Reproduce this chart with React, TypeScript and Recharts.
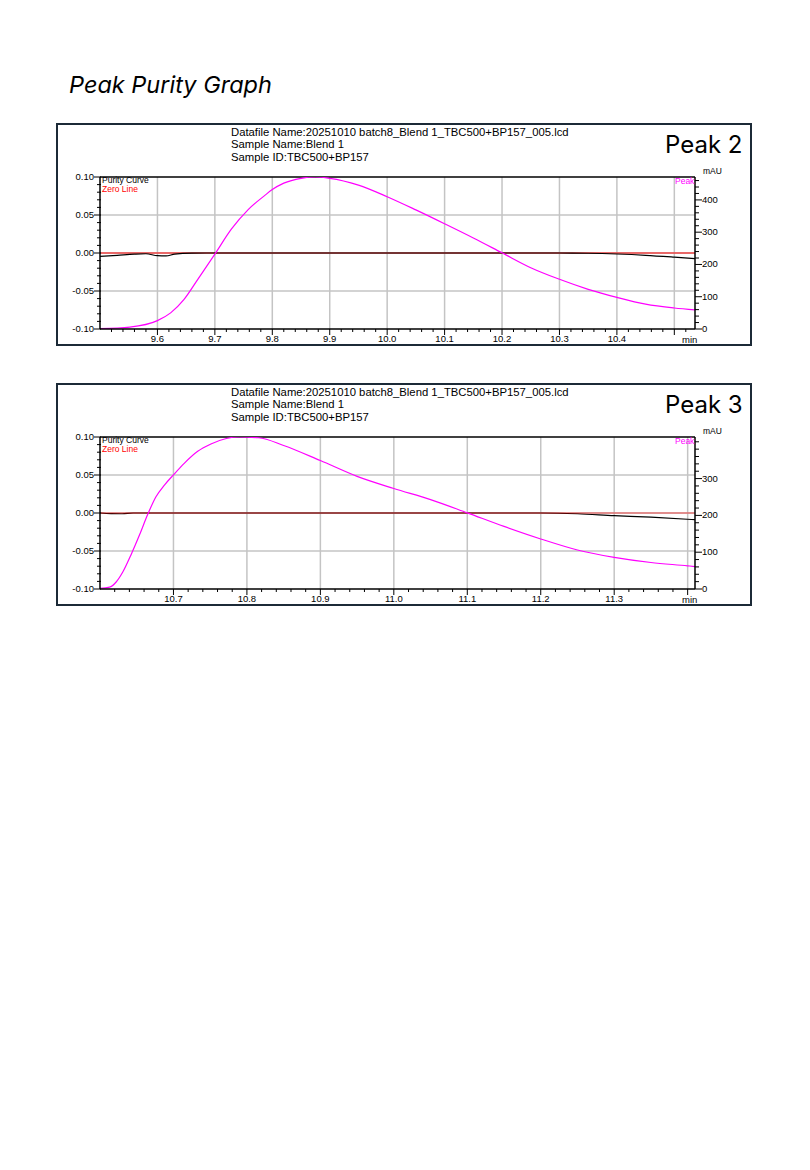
import React from 'react';
import { LineChart, Line, XAxis, YAxis, CartesianGrid, ReferenceLine } from 'recharts';

// Peak 2 window
const P2_TIME = [9.5, 9.552, 9.6, 9.623, 9.646, 9.67, 9.7, 9.729, 9.758, 9.787, 9.8, 9.82, 9.85, 9.875, 9.9, 9.95, 10.0, 10.05, 10.1, 10.15, 10.2, 10.25, 10.3, 10.35, 10.4, 10.45, 10.5, 10.536];
const P2_PEAK = [1, 6, 26, 50, 91, 153, 232, 310, 370, 414, 432, 452, 467, 471, 467, 446, 410, 369, 326, 282, 236, 190, 154, 123, 98, 77, 65, 59];
const P2_PUR_TIME = [9.5, 9.53, 9.56, 9.58, 9.6, 9.615, 9.63, 9.66, 9.7, 10.0, 10.3, 10.35, 10.4, 10.45, 10.5, 10.536];
const P2_PURITY = [-0.0044, -0.003, -0.0015, -0.001, -0.0035, -0.0038, -0.0015, -0.0002, 0, 0, 0, -0.0003, -0.0013, -0.003, -0.0055, -0.0075];
const P2_X_MAJOR = [9.6, 9.7, 9.8, 9.9, 10.0, 10.1, 10.2, 10.3, 10.4, 10.5];
const P2_Y_RIGHT = [0, 100, 200, 300, 400];

// Peak 3 window
const P3_TIME = [10.6, 10.613, 10.622, 10.631, 10.642, 10.654, 10.665, 10.676, 10.688, 10.7, 10.715, 10.733, 10.751, 10.772, 10.79, 10.816, 10.85, 10.9, 10.95, 11.0, 11.05, 11.1, 11.15, 11.2, 11.25, 11.3, 11.35, 11.4, 11.41];
const P3_PEAK = [2, 5, 19, 46, 92, 148, 203, 250, 283, 310, 342, 374, 394, 409, 413, 411, 390, 349, 306, 273, 243, 207, 170, 136, 106, 86, 72, 63, 61];
const P3_PUR_TIME = [10.6, 10.615, 10.63, 10.645, 10.9, 11.2, 11.25, 11.3, 11.35, 11.41];
const P3_PURITY = [0, -0.0008, -0.001, 0, 0, 0, -0.001, -0.0035, -0.0055, -0.0088];
const P3_X_MAJOR = [10.7, 10.8, 10.9, 11.0, 11.1, 11.2, 11.3, 11.4];
const P3_Y_RIGHT = [0, 100, 200, 300];

const Y_LEFT_MAJOR = [-0.1, -0.05, 0, 0.05, 0.1];
const Y_GRID = [-0.05, 0, 0.05];

const HEADER = [
  'Datafile Name:20251010 batch8_Blend 1_TBC500+BP157_005.lcd',
  'Sample Name:Blend 1',
  'Sample ID:TBC500+BP157',
];

const FONT = '"Liberation Sans", Arial, sans-serif';

const steps = (from: number, to: number, step: number) => {
  const out: number[] = [];
  const start = Math.ceil(from / step - 1e-6);
  for (let i = start; i * step <= to + 1e-9; i++) out.push(Math.round(i * step * 1000) / 1000);
  return out;
};
const isMajor = (list: number[], v: number) => list.some(m => Math.abs(m - v) < 1e-6);

interface PanelProps {
  top: number;
  name: string;
  xDomain: [number, number];
  xMajor: number[];
  peakMax: number;
  rightMajor: number[];
  time: number[];
  peak: number[];
  purTime: number[];
  purity: number[];
  zeroOnTop?: boolean;
}

function Panel({ top, name, xDomain, xMajor, peakMax, rightMajor, time, peak, purTime, purity, zeroOnTop }: PanelProps) {
  const peakData = time.map((t, i) => ({ t, peak: peak[i] }));
  const purData = purTime.map((t, i) => ({ t, purity: purity[i] }));
  const zeroData = [{ t: xDomain[0], zero: 0 }, { t: xDomain[1], zero: 0 }];
  const lastMajor = xMajor[xMajor.length - 1];

  const xTicks = steps(xDomain[0] + 0.001, xDomain[1], 0.02);
  const yLeftTicks = steps(-0.1, 0.1, 0.01);
  const yRightTicks = steps(0, peakMax, 20);

  const XTick = (p: any) => {
    const { x, y, payload } = p;
    const major = isMajor(xMajor, payload.value);
    return (
      <g>
        <line x1={x} x2={x} y1={y} y2={y + (major ? 6 : 3)} stroke="#000" strokeWidth={1} />
        {major && payload.value !== lastMajor && (
          <text x={x} y={y + 13} textAnchor="middle" fontSize={9.5} fontFamily={FONT} fill="#000">
            {payload.value.toFixed(1)}
          </text>
        )}
      </g>
    );
  };
  const YLeftTick = (p: any) => {
    const { x, y, payload } = p;
    const major = isMajor(Y_LEFT_MAJOR, payload.value);
    return (
      <g>
        <line x1={major ? x - 6 : x - 3} x2={x + 1} y1={y} y2={y} stroke="#000" strokeWidth={1} />
        {major && (
          <text x={x - 6} y={y + 3} textAnchor="end" fontSize={9.5} fontFamily={FONT} fill="#000">
            {payload.value.toFixed(2)}
          </text>
        )}
      </g>
    );
  };
  const YRightTick = (p: any) => {
    const { x, y, payload } = p;
    const major = isMajor(rightMajor, payload.value);
    return (
      <g>
        <line x1={x} x2={x + (major ? 7 : 4)} y1={y} y2={y} stroke="#000" strokeWidth={1} />
        {major && (
          <text x={x + 7} y={y + 3} textAnchor="start" fontSize={9.5} fontFamily={FONT} fill="#000">
            {payload.value}
          </text>
        )}
      </g>
    );
  };

  const zeroLine = (
    <Line key="zero" data={zeroData} dataKey="zero" xAxisId="x" yAxisId="left" type="linear"
      stroke="#ff0000" strokeOpacity={zeroOnTop ? 0.65 : 1} strokeWidth={1.2} dot={false} isAnimationActive={false} />
  );
  const purLine = (
    <Line key="pur" data={purData} dataKey="purity" xAxisId="x" yAxisId="left" type="monotone"
      stroke="#000" strokeWidth={1.2} dot={false} isAnimationActive={false} />
  );

  return (
    <div style={{ position: 'absolute', left: 56, top, width: 692, height: 219, border: '2px solid #1c2a37', background: '#fff' }}>
      <div style={{ position: 'absolute', left: 173, top: 1, fontFamily: FONT, fontSize: 11.3, lineHeight: '12.3px', color: '#000', whiteSpace: 'pre' }}>
        {HEADER.map(h => <div key={h}>{h}</div>)}
      </div>
      <div style={{ position: 'absolute', left: 607, top: 5, fontFamily: 'Inter, "Open Sans", sans-serif', fontSize: 24, color: '#000', whiteSpace: 'pre' }}>
        {name}
      </div>
      <LineChart width={692} height={219} margin={{ top: 52, right: 0, bottom: 0, left: 0 }}>
        <CartesianGrid xAxisId="x" yAxisId="left" stroke="#c4c4c4" strokeWidth={1.5}
          verticalValues={xMajor} horizontalValues={Y_GRID} />
        <XAxis xAxisId="x" dataKey="t" type="number" domain={xDomain} allowDataOverflow ticks={xTicks} interval={0}
          height={15} tickSize={0} tickMargin={0} tickLine={false} axisLine={{ stroke: '#000', strokeWidth: 1.5 }} tick={XTick} />
        <YAxis yAxisId="left" type="number" domain={[-0.1, 0.1]} allowDataOverflow ticks={yLeftTicks} interval={0}
          width={42} tickSize={0} tickMargin={0} tickLine={false} axisLine={{ stroke: '#000', strokeWidth: 1.5 }} tick={YLeftTick} />
        <YAxis yAxisId="right" orientation="right" type="number" domain={[0, peakMax]} allowDataOverflow ticks={yRightTicks} interval={0}
          width={55} tickSize={0} tickMargin={0} tickLine={false} axisLine={{ stroke: '#000', strokeWidth: 1.5 }} tick={YRightTick} />
        <ReferenceLine xAxisId="x" yAxisId="left" y={0.1} stroke="#000" strokeWidth={1.5} ifOverflow="visible" />
        {zeroOnTop ? [purLine, zeroLine] : [zeroLine, purLine]}
        <Line data={peakData} dataKey="peak" xAxisId="x" yAxisId="right" type="monotone"
          stroke="#ff00ff" strokeWidth={1.2} dot={false} isAnimationActive={false} />
      </LineChart>
      <div style={{ position: 'absolute', left: 44, top: 51, fontFamily: FONT, fontSize: 8.5, lineHeight: '9px', whiteSpace: 'pre' }}>
        <div style={{ color: '#000' }}>Purity Curve</div>
        <div style={{ color: '#ff0000' }}>Zero Line</div>
      </div>
      <div style={{ position: 'absolute', left: 617, top: 51, fontFamily: FONT, fontSize: 8.5, color: '#ff00ff' }}>Peak</div>
      <div style={{ position: 'absolute', left: 645, top: 41, fontFamily: FONT, fontSize: 8.5, color: '#000' }}>mAU</div>
      <div style={{ position: 'absolute', left: 624, top: 209, fontFamily: FONT, fontSize: 9.5, color: '#000' }}>min</div>
    </div>
  );
}

export default function App() {
  return (
    <div style={{ position: 'absolute', left: 0, top: 0, width: 810, height: 1170, background: '#fff' }}>
      <div style={{ position: 'absolute', left: 69, top: 70, fontFamily: 'Inter, "Open Sans", sans-serif', fontStyle: 'italic', fontSize: 23.5, color: '#000', whiteSpace: 'pre' }}>
        Peak Purity Graph
      </div>
      <Panel top={123} name="Peak 2" xDomain={[9.5, 10.536]} xMajor={P2_X_MAJOR} peakMax={471} rightMajor={P2_Y_RIGHT}
        time={P2_TIME} peak={P2_PEAK} purTime={P2_PUR_TIME} purity={P2_PURITY} />
      <Panel top={383} name="Peak 3" xDomain={[10.6, 11.41]} xMajor={P3_X_MAJOR} peakMax={413} rightMajor={P3_Y_RIGHT}
        time={P3_TIME} peak={P3_PEAK} purTime={P3_PUR_TIME} purity={P3_PURITY} zeroOnTop />
    </div>
  );
}
